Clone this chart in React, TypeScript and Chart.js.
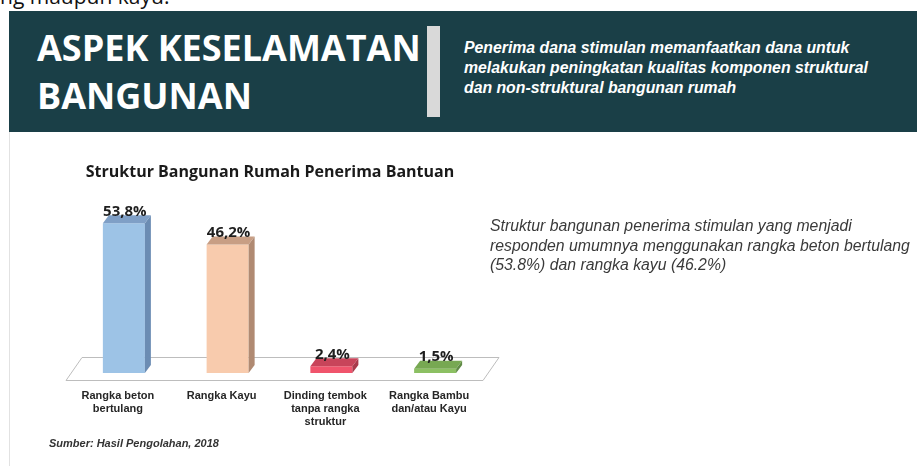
import React, { useEffect, useRef } from 'react';
import { Chart, registerables } from 'chart.js';

Chart.register(...registerables);

const categories: string[][] = [
  ['Rangka beton', 'bertulang'],
  ['Rangka Kayu'],
  ['Dinding tembok', 'tanpa rangka', 'struktur'],
  ['Rangka Bambu', 'dan/atau Kayu'],
];
const values: number[] = [53.8, 46.2, 2.4, 1.5];
const valueLabels: string[] = ['53,8%', '46,2%', '2,4%', '1,5%'];
const frontColors: string[] = ['#9dc3e6', '#f8cbad', '#f0546c', '#8cc063'];
const topColors: string[] = ['#7f9fc6', '#c89e84', '#c8445a', '#77a852'];
const sideColors: string[] = ['#6b8cb3', '#b08a72', '#a83a4b', '#5f8a45'];
const chartTitle = 'Struktur Bangunan Rumah Penerima Bantuan';
const headerTitle: string[] = ['ASPEK KESELAMATAN', 'BANGUNAN'];
const headerText: string[] = [
  'Penerima dana stimulan memanfaatkan dana untuk',
  'melakukan peningkatan kualitas komponen struktural',
  'dan non-struktural bangunan rumah',
];
const noteText: string[] = [
  'Struktur bangunan penerima stimulan yang menjadi',
  'responden umumnya menggunakan rangka beton bertulang',
  '(53.8%) dan rangka kayu (46.2%)',
];
const sourceText = 'Sumber: Hasil Pengolahan, 2018';
const topCutText = 'ng maupun kayu.';

const bar3dPlugin = {
  id: 'bar3d',
  beforeDatasetsDraw(chart: any) {
    const { ctx, chartArea } = chart;
    const base = chart.scales.y.getPixelForValue(0);
    const l = chartArea.left;
    const r = chartArea.right;
    ctx.save();
    ctx.beginPath();
    ctx.moveTo(l - 6, base + 7.5);
    ctx.lineTo(r - 4, base + 7.5);
    ctx.lineTo(r + 12, base - 15.5);
    ctx.lineTo(l + 10, base - 15.5);
    ctx.closePath();
    ctx.fillStyle = '#ffffff';
    ctx.fill();
    ctx.strokeStyle = '#bdbdbd';
    ctx.lineWidth = 1;
    ctx.stroke();
    ctx.restore();
  },
  afterDatasetsDraw(chart: any) {
    const ctx = chart.ctx;
    const meta = chart.getDatasetMeta(0);
    const dx = 6;
    const dy = -8;
    ctx.save();
    meta.data.forEach((bar: any, i: number) => {
      const { x, y, base, width } = bar.getProps(['x', 'y', 'base', 'width'], true);
      const L = x - width / 2;
      const R = x + width / 2;
      ctx.fillStyle = sideColors[i];
      ctx.beginPath();
      ctx.moveTo(R, y);
      ctx.lineTo(R + dx, y + dy);
      ctx.lineTo(R + dx, base + dy);
      ctx.lineTo(R, base);
      ctx.closePath();
      ctx.fill();
      ctx.fillStyle = topColors[i];
      ctx.beginPath();
      ctx.moveTo(L, y);
      ctx.lineTo(L + dx, y + dy);
      ctx.lineTo(R + dx, y + dy);
      ctx.lineTo(R, y);
      ctx.closePath();
      ctx.fill();
    });
    ctx.fillStyle = '#1e1e1e';
    ctx.font = 'bold 15px "Open Sans"';
    ctx.textAlign = 'center';
    ctx.textBaseline = 'alphabetic';
    meta.data.forEach((bar: any, i: number) => {
      const { x, y } = bar.getProps(['x', 'y'], true);
      ctx.fillText(valueLabels[i], x + 1, y - 7.5);
    });
    ctx.fillStyle = '#1a1a1a';
    ctx.font = 'bold 16px "Open Sans"';
    ctx.fillText(chartTitle, 270, 177);
    ctx.restore();
  },
};

function ChartCanvas() {
  const ref = useRef<HTMLCanvasElement | null>(null);
  useEffect(() => {
    if (!ref.current) return;
    const chart = new Chart(ref.current, {
      type: 'bar',
      data: {
        labels: categories,
        datasets: [
          {
            data: values,
            backgroundColor: frontColors,
            borderWidth: 0,
            barPercentage: 0.405,
            categoryPercentage: 1,
          },
        ],
      },
      options: {
        animation: false,
        responsive: false,
        devicePixelRatio: 1,
        layout: { padding: { left: 72, right: 430, top: 206, bottom: 21.4 } },
        plugins: {
          legend: { display: false },
          tooltip: { enabled: false },
          title: { display: false },
        },
        scales: {
          y: { display: false, min: 0, max: 60 },
          x: {
            grid: { display: false, drawTicks: false },
            border: { display: false },
            ticks: {
              padding: 16,
              labelOffset: -6,
              maxRotation: 0,
              autoSkip: false,
              color: '#262626',
              font: { family: '"Liberation Sans", Arial, sans-serif', size: 11, weight: 'bold' },
            },
          },
        },
      },
      plugins: [bar3dPlugin],
    } as any);
    return () => chart.destroy();
  }, []);
  return (
    <canvas
      ref={ref}
      width={917}
      height={466}
      style={{ position: 'absolute', left: 0, top: 0, width: 917, height: 466 }}
    />
  );
}

export default function App() {
  return (
    <div
      style={{
        position: 'absolute',
        left: 0,
        top: 0,
        width: 917,
        height: 466,
        overflow: 'hidden',
        background: '#ffffff',
      }}
    >
      <div
        style={{
          position: 'absolute',
          left: 0,
          top: -13.6,
          fontFamily: '"Open Sans", sans-serif',
          fontSize: 21,
          lineHeight: '21px',
          color: '#111',
          whiteSpace: 'nowrap',
        }}
      >
        {topCutText}
      </div>
      <div
        style={{
          position: 'absolute',
          left: 9,
          top: 11,
          width: 908,
          height: 121,
          background: '#1a3f47',
        }}
      />
      <div
        style={{ position: 'absolute', left: 9, top: 132, width: 1, height: 334, background: '#e2e2e2' }}
      />
      <div
        style={{
          position: 'absolute',
          left: 37,
          top: 24,
          fontFamily: '"Open Sans", sans-serif',
          fontWeight: 700,
          fontSize: 36,
          lineHeight: '48px',
          color: '#ffffff',
          whiteSpace: 'nowrap',
        }}
      >
        {headerTitle.map((t, i) => (
          <div key={i}>{t}</div>
        ))}
      </div>
      <div
        style={{ position: 'absolute', left: 427, top: 26, width: 13, height: 91, background: '#d9d9d9' }}
      />
      <div
        style={{
          position: 'absolute',
          left: 464,
          top: 37.5,
          fontFamily: '"Liberation Sans", Arial, sans-serif',
          fontWeight: 700,
          fontStyle: 'italic',
          fontSize: 15.8,
          lineHeight: '20px',
          color: '#ffffff',
          whiteSpace: 'nowrap',
        }}
      >
        {headerText.map((t, i) => (
          <div key={i}>{t}</div>
        ))}
      </div>
      <ChartCanvas />
      <div
        style={{
          position: 'absolute',
          left: 490,
          top: 216,
          fontFamily: '"Liberation Sans", Arial, sans-serif',
          fontStyle: 'italic',
          fontSize: 15.8,
          lineHeight: '19.5px',
          color: '#3a3a3a',
          whiteSpace: 'nowrap',
        }}
      >
        {noteText.map((t, i) => (
          <div key={i}>{t}</div>
        ))}
      </div>
      <div
        style={{
          position: 'absolute',
          left: 49,
          top: 436.7,
          fontFamily: '"Liberation Sans", Arial, sans-serif',
          fontWeight: 700,
          fontStyle: 'italic',
          fontSize: 11,
          lineHeight: '13px',
          color: '#333333',
          whiteSpace: 'nowrap',
        }}
      >
        {sourceText}
      </div>
    </div>
  );
}
